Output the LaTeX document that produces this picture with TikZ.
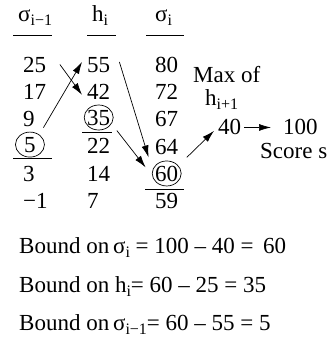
\documentclass[tikz,border=0pt]{standalone}
\usepackage{fontspec}
\setmainfont{Liberation Serif}
\usetikzlibrary{arrows.meta,shapes.geometric}
\newcommand\sbs[1]{\raisebox{-4.5pt}{\fontsize{16}{16}\selectfont #1}}
\begin{document}
\begin{tikzpicture}[x=1pt,y=-1pt,
  every node/.style={inner sep=0pt, font=\fontsize{23}{25}\selectfont},
  num/.style={anchor=base west},
  ring/.style={draw, ellipse, minimum width=29pt, minimum height=25pt, line width=0.7pt},
  rule/.style={line width=0.8pt},
  arr/.style={line width=0.7pt, -{Latex[length=12pt,width=7pt]}}]
\useasboundingbox (0,0) rectangle (328,341);
% headers
\node[num] (hd1) at (18,21) {σ\sbs{i−1}};
\node[num] (hd2) at (92,21) {h\sbs{i}};
\node[num] (hd3) at (155,21) {σ\sbs{i}};
\draw[rule] (13,35) -- (52,35);
\draw[rule] (87,35) -- (116,35);
\draw[rule] (146,35) -- (184,35);
% column 1
\node[num] (n25) at (23,72) {25};
\node[num] (n17) at (23,99) {17};
\node[num] (n9) at (23,126) {9};
\node[num] (n5) at (24,152) {5};
\node[num] (n3) at (23,181) {3};
\node[num] (nm1) at (23,208) {−1};
% column 2
\node[num] (n55) at (87,72) {55};
\node[num] (n42) at (87,99) {42};
\node[num] (n35) at (87,125) {35};
\node[num] (n22) at (87,153) {22};
\node[num] (n14) at (87,181) {14};
\node[num] (n7) at (87,208) {7};
% column 3
\node[num] (n80) at (155,72) {80};
\node[num] (n72) at (155,99) {72};
\node[num] (n67) at (155,126) {67};
\node[num] (n64) at (155,154) {64};
\node[num] (n60) at (155,181) {60};
\node[num] (n59) at (155,208) {59};
% rings and rules
\node[ring] (r5) at (n5.center) {};
\node[ring] (r35) at (n35.center) {};
\node[ring] (r60) at (n60.center) {};
\draw[rule] (13,158) -- (52,158);
\draw[rule] (82,132) -- (112,132);
\draw[rule] (145,189) -- (184,189);
% right side
\node[num] (max) at (193,82) {Max of};
\node[num] (hn) at (205,105) {h\sbs{i+1}};
\node[num] (n40) at (218,134) {40};
\node[num] (n100) at (283,134) {100};
\node[num] (score) at (260,158) {Score s};
% arrows
\draw[arr] ([shift={(13.5,-17)}]r5.center) -- ([shift={(-5,-2.6)}]n55.west);
\draw[arr] ([shift={(13.5,0)}]n25.east) -- ([shift={(-5,3.4)}]n42.west);
\draw[arr] ([shift={(9,-2.6)}]n55.east) -- ([shift={(-7.6,-7)}]r60.north west);
\draw[arr] ([shift={(7.6,3.9)}]r35.south east) -- ([shift={(-10.6,3)}]r60.north west);
\draw[arr] ([shift={(9.6,-7)}]r60.north east) -- ([shift={(-4,4.4)}]n40.west);
\draw[arr] ([shift={(3,1)}]n40.east) -- ([shift={(-12,1)}]n100.west);
% bottom
\node[num] (b1) at (19,253) {Bound on\,σ\sbs{i} = 100 – 40 =\, 60};
\node[num] (b2) at (19,292) {Bound on h\sbs{i}= 60 – 25 = 35};
\node[num] (b3) at (19,330) {Bound on\,σ\sbs{i−1}= 60 – 55 = 5};
\end{tikzpicture}
\end{document}
